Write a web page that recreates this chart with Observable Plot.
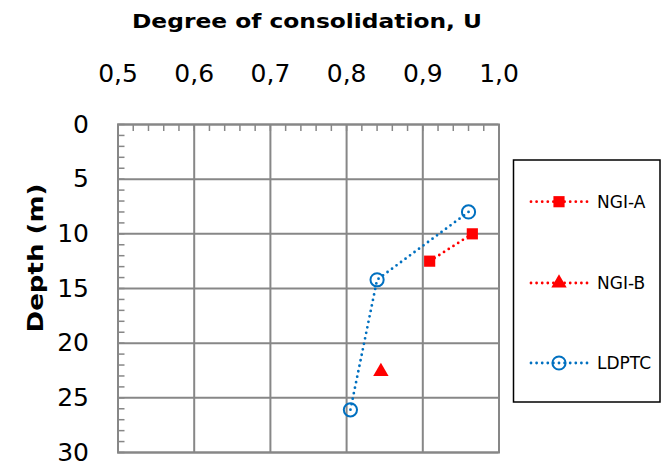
<!DOCTYPE html>
<html><head><meta charset="utf-8">
<script src="https://cdn.jsdelivr.net/npm/d3@7"></script>
<script src="https://cdn.jsdelivr.net/npm/@observablehq/plot@0.6"></script>
<style>body{margin:0;background:#fff} #chart{width:661px;height:468px}</style>
</head><body><div id="chart"></div>
<script>
// ---- data ----
const seriesNames = ["NGI-A", "NGI-B", "LDPTC"];
const ngiA_U = [0.965, 0.909];
const ngiA_depth = [10.0, 12.5];
const ngiB_U = [0.845];
const ngiB_depth = [22.6];
const ldptc_U = [0.960, 0.840, 0.805];
const ldptc_depth = [8.0, 14.2, 26.1];
const xTicks = [0.5, 0.6, 0.7, 0.8, 0.9, 1.0];
const yTicks = [0, 5, 10, 15, 20, 25, 30];
const xTitle = "Degree of consolidation, U";
const yTitle = "Depth (m)";

// ---- build tables ----
const toRows = (U, D, s) => U.map((u, i) => ({U: u, depth: D[i], series: s}));
const ngiA = toRows(ngiA_U, ngiA_depth, seriesNames[0]);
const ngiB = toRows(ngiB_U, ngiB_depth, seriesNames[1]);
const ldptc = toRows(ldptc_U, ldptc_depth, seriesNames[2]);
const minorX = d3.range(0, 26).map(i => 0.5 + i * 0.02);
const minorY = d3.range(0, 31);

const RED = "#FF0000", BLUE = "#0070C0", GRID = "#878787";
const FONT = "DejaVu Sans";
const fmt = d => d.toFixed(1).replace(".", ",");
const dotted = {strokeWidth: 2.8, strokeDasharray: "0 5.6", strokeLinecap: "round"};

const svg = Plot.plot({
  width: 661, height: 468,
  marginTop: 124, marginRight: 162.5, marginBottom: 16, marginLeft: 117.5,
  style: {fontFamily: FONT, background: "white", overflow: "visible", color: "black"},
  x: {domain: [0.5, 1.0]},
  y: {domain: [0, 30], reverse: true},
  marks: [
    Plot.gridX(xTicks, {stroke: GRID, strokeOpacity: 1, strokeWidth: 2}),
    Plot.gridY(yTicks, {stroke: GRID, strokeOpacity: 1, strokeWidth: 2}),
    Plot.axisX(minorX, {anchor: "top", tickSize: -6, fill: "none", stroke: GRID, strokeWidth: 1.5, label: null}),
    Plot.axisY(minorY, {anchor: "left", tickSize: -7, fill: "none", stroke: GRID, strokeWidth: 1.5, label: null}),
    Plot.frame({stroke: GRID, strokeWidth: 2}),
    Plot.axisX(xTicks, {anchor: "top", tickSize: 0, tickPadding: 43, tickFormat: fmt, fontSize: 25, fill: "black", label: null}),
    Plot.axisY(yTicks, {anchor: "left", tickSize: 0, tickPadding: 29, fontSize: 25, fill: "black", label: null}),
    Plot.line(ldptc, {x: "U", y: "depth", stroke: BLUE, ...dotted}),
    Plot.line(ngiA, {x: "U", y: "depth", stroke: RED, ...dotted}),
    Plot.dot(ldptc, {x: "U", y: "depth", symbol: "circle", r: 6.6, stroke: BLUE, strokeWidth: 2, fill: "none"}),
    Plot.dot(ngiA, {x: "U", y: "depth", symbol: "square", r: 6.3, fill: RED}),
    Plot.dot(ngiB, {x: "U", y: "depth", symbol: "triangle", r: 5.7, fill: RED})
  ]
});
document.getElementById("chart").appendChild(svg);

// ---- titles ----
const s = d3.select(svg);
s.append("text").attr("x", 307).attr("y", 28).attr("text-anchor", "middle")
  .attr("textLength", 350).attr("lengthAdjust", "spacingAndGlyphs")
  .attr("font-family", FONT).attr("font-weight", "bold").attr("font-size", 19).attr("fill", "black").text(xTitle);
s.append("text").attr("transform", "translate(43,258) rotate(-90)").attr("text-anchor", "middle")
  .attr("textLength", 149).attr("lengthAdjust", "spacingAndGlyphs")
  .attr("font-family", FONT).attr("font-weight", "bold").attr("font-size", 21).attr("fill", "black").text(yTitle);

// ---- legend ----
const lg = s.append("g");
lg.append("rect").attr("x", 513.5).attr("y", 160).attr("width", 146.5).attr("height", 242)
  .attr("fill", "white").attr("stroke", "black").attr("stroke-width", 1.5);
const items = [
  {name: seriesNames[0], color: RED, sym: d3.symbolSquare, size: Math.PI * 6.3 * 6.3, fill: RED, y: 201.7},
  {name: seriesNames[1], color: RED, sym: d3.symbolTriangle, size: Math.PI * 5.7 * 5.7, fill: RED, y: 283},
  {name: seriesNames[2], color: BLUE, sym: d3.symbolCircle, size: Math.PI * 6.6 * 6.6, fill: "none", y: 363}
];
for (const it of items) {
  lg.append("line").attr("x1", 531).attr("x2", 588).attr("y1", it.y).attr("y2", it.y)
    .attr("stroke", it.color).attr("stroke-width", 2.8).attr("stroke-dasharray", "0 5.6").attr("stroke-linecap", "round");
  lg.append("path").attr("transform", `translate(559,${it.y})`).attr("d", d3.symbol(it.sym, it.size)())
    .attr("fill", it.fill).attr("stroke", it.fill === "none" ? it.color : "none").attr("stroke-width", 2);
  lg.append("text").attr("x", 597).attr("y", it.y).attr("dy", "0.36em").attr("text-anchor", "start")
    .attr("font-family", FONT).attr("font-size", 17).attr("fill", "black").text(it.name);
}
</script>
</body></html>
